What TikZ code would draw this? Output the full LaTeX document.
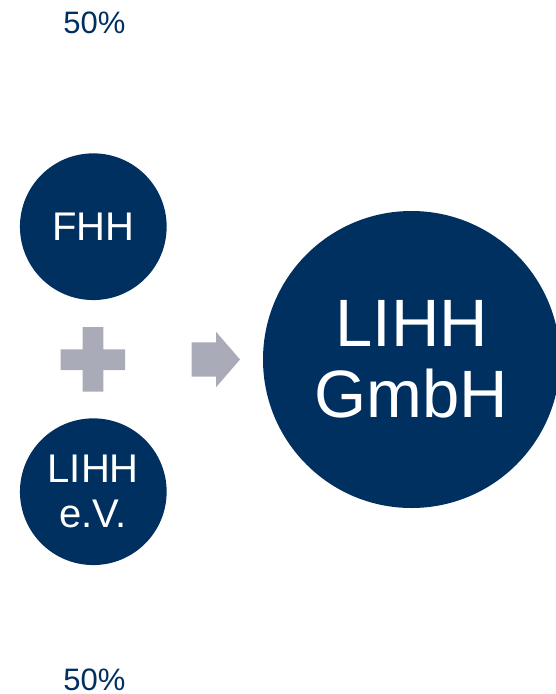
\documentclass[tikz,border=0pt]{standalone}
\usepackage{fontspec}
\setmainfont{Liberation Sans}
\definecolor{navy}{RGB}{0,48,96}
\definecolor{greyshape}{RGB}{169,172,184}
\begin{document}
\begin{tikzpicture}[x=1pt,y=-1pt,
  disc/.style={circle,fill=navy,text=white,inner sep=0pt,align=center},
  pct/.style={text=navy,anchor=base,inner sep=0pt,font=\fontsize{31}{36}\selectfont},
  shapefill/.style={fill=greyshape,draw=none}]
\useasboundingbox (0,0) rectangle (556,694);
\clip (0,0) rectangle (556,694);
\node[pct] (toppct) at (94.5,33) {50\%};
\node[pct] (botpct) at (94.5,690.3) {50\%};
\node[disc,minimum size=146.7pt,font=\fontsize{40}{44.6}\selectfont] (fhh) at (93.3,226.7) {FHH};
\node[disc,minimum size=146.7pt,font=\fontsize{40}{44.6}\selectfont] (ev) at (93.3,491.7) {LIHH\\e.V.};
\node[disc,minimum size=297pt,font=\fontsize{67}{70.7}\selectfont] (gmbh) at (411.5,359.5) {LIHH\\GmbH};
\fill[shapefill] (82.7,327) -- (103.3,327) -- (103.3,349.3) -- (125,349.3) -- (125,370) -- (103.3,370) -- (103.3,391.7) -- (82.7,391.7) -- (82.7,370) -- (60.7,370) -- (60.7,349.3) -- (82.7,349.3) -- cycle;
\fill[shapefill] (191.7,342.3) -- (216,342.3) -- (216,331.7) -- (240,359.5) -- (216,387.3) -- (216,376.7) -- (191.7,376.7) -- cycle;
\end{tikzpicture}
\end{document}
